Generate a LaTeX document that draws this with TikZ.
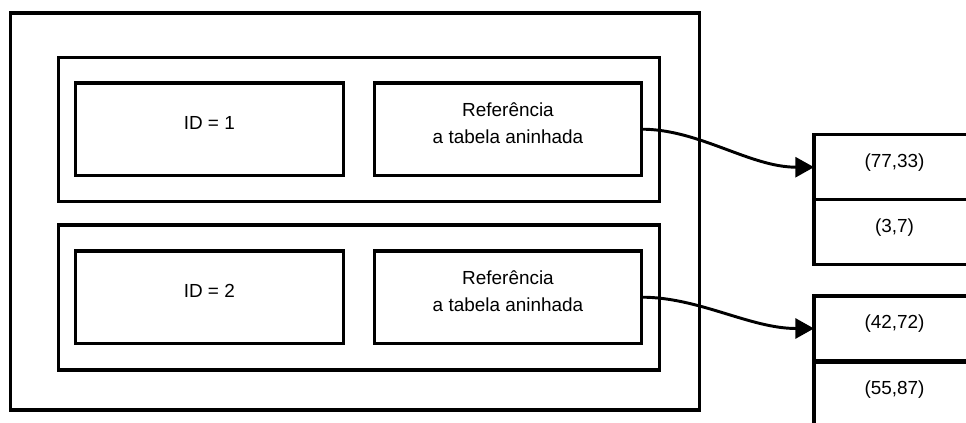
\documentclass[tikz,border=0pt]{standalone}
\usepackage{fontspec}
\setmainfont{Liberation Sans}
\usetikzlibrary{arrows.meta}

\tikzset{
  frame/.style 2 args={draw=black, line width=2.5pt, fill=none,
    rectangle, inner sep=0pt, outer sep=0pt,
    minimum width=#1*0.75pt, minimum height=#2*0.75pt},
  txt/.style={inner sep=0pt, outer sep=0pt, align=center,
    font=\fontsize{14.2pt}{20.5pt}\selectfont, text=black},
  link/.style={draw=black, line width=2.2pt,
    -{Triangle[length=14pt,width=15pt]}},
}

\begin{document}
\begin{tikzpicture}[x=0.75pt,y=-0.75pt]
  \clip (0,0) rectangle (966,423);
  \fill[white] (0,0) rectangle (966,423);

  % outer table with its two rows
  \node[frame={689}{397}] (outer) at (354.8,211.5) {};
  \node[frame={600.6}{144.4}] (row1) at (359,129.5) {};
  \node[frame={600.6}{145}] (row2) at (359,297.5) {};

  % cells of each row
  \node[frame={268}{92.3}] (id1) at (209.3,129.2) {};
  \node[frame={267.4}{92.3}] (ref1) at (508,129.2) {};
  \node[frame={268}{92.3}] (id2) at (209.3,297.2) {};
  \node[frame={267.4}{92.3}] (ref2) at (508,297.2) {};

  \node[txt] (id1t) at ([yshift=5pt]id1.center) {ID = 1};
  \node[txt] (ref1t) at ([yshift=4.5pt]ref1.center) {Referência\\a tabela aninhada};
  \node[txt] (id2t) at ([yshift=5pt]id2.center) {ID = 2};
  \node[txt] (ref2t) at ([yshift=4.5pt]ref2.center) {Referência\\a tabela aninhada};

  % nested tables
  \node[frame={161}{65}] (n1a) at (894.5,167.2) {};
  \node[frame={161}{65}] (n1b) at (894.5,232.2) {};
  \node[frame={161}{65}] (n2a) at (894.5,328.5) {};
  \node[frame={161}{65}] (n2b) at (894.5,395) {};

  \node[txt] (n1at) at ([yshift=3.8pt]n1a.center) {(77,33)};
  \node[txt] (n1bt) at ([yshift=3.8pt]n1b.center) {(3,7)};
  \node[txt] (n2at) at ([yshift=3.8pt]n2a.center) {(42,72)};
  \node[txt] (n2bt) at ([yshift=3.8pt]n2b.center) {(55,87)};

  % references into the nested tables
  \draw[link] (ref1.east) .. controls ([xshift=43pt]ref1.east) and ([xshift=-48pt]n1a.west) .. (n1a.west);
  \draw[link] (ref2.east) .. controls ([xshift=43pt]ref2.east) and ([xshift=-48pt]n2a.west) .. (n2a.west);
\end{tikzpicture}
\end{document}
